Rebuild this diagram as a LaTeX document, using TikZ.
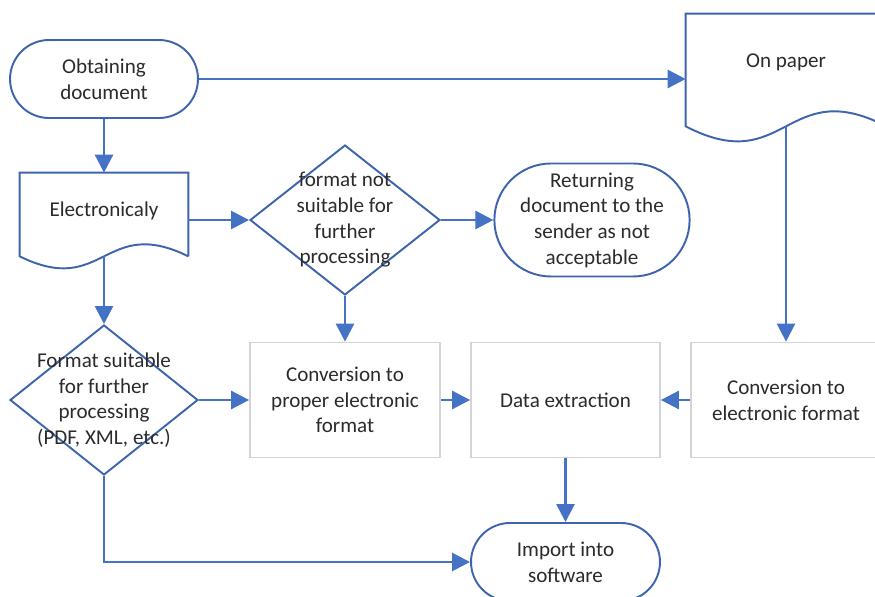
\documentclass[tikz,border=0pt]{standalone}
\usepackage{fontspec}
\setmainfont{Carlito}
\usetikzlibrary{arrows.meta,calc,shapes.geometric,shapes.misc}
\definecolor{flowblue}{HTML}{4472C4}
\definecolor{edgeblue}{HTML}{3E64AE}
\definecolor{boxgray}{HTML}{D4D4D4}
\definecolor{txtgray}{HTML}{2B2B2B}

\begin{document}
\begin{tikzpicture}[x=0.02cm, y=-0.02cm, >={Triangle[length=0.36cm,width=0.36cm]},
  every node/.style={font=\fontsize{12}{14.6}\selectfont, text=txtgray, align=center},
  terminal/.style={rounded rectangle, draw=edgeblue, line width=1.1pt, fill=white,
    minimum width=3.76cm, minimum height=1.56cm, inner sep=0pt},
  decision/.style={diamond, draw=edgeblue, line width=1.1pt, minimum width=3.8cm,
    minimum height=3cm, inner sep=0pt},
  process/.style={rectangle, draw=boxgray, line width=1pt, minimum width=3.8cm,
    minimum height=2.3cm},
  doctext/.style={rectangle, inner sep=0pt},
  docline/.style={draw=edgeblue, line width=1.1pt},
  flow/.style={->, draw=flowblue, line width=1.5pt}]
\useasboundingbox (0,0) rectangle (875,597);
\clip (0,0) rectangle (875,597);

% Terminals
\node [terminal] (obtain) at (104,79) {Obtaining\\document};
\node [terminal, minimum width=3.82cm, minimum height=2.26cm] (returning) at (592,220)
  {Returning\\document to the\\sender as not\\acceptable};
\node [terminal, minimum width=3.78cm] (importsw) at (565.5,562) {Import into\\software};

% Documents (text part, wave drawn below)
\node [doctext, minimum width=3.36cm, minimum height=1.52cm] (elec) at (104,211) {Electronicaly};
\node [doctext, minimum width=4cm, minimum height=1.92cm] (paper) at (786,62) {On paper};
\draw [docline] ($(elec.south east)+(0,7)$) -- (elec.north east) -- (elec.north west)
  -- ($(elec.south west)+(0,7)$) .. controls ($(elec.south)+(0,48.6)$) and ($(elec.south)+(0,-34.6)$)
  .. ($(elec.south east)+(0,7)$);
\draw [docline] ($(paper.south east)+(0,16)$) -- (paper.north east) -- (paper.north west)
  -- ($(paper.south west)+(0,16)$) .. controls ($(paper.south)+(0,68)$) and ($(paper.south)+(0,-36)$)
  .. ($(paper.south east)+(0,16)$);
\coordinate (elecbot) at ($(elec.south)+(0,7)$);
\coordinate (paperbot) at ($(paper.south)+(0,16)$);

% Decisions
\node [decision, label={center:{format not\\suitable for\\further\\processing}}] (notsuit) at (345,220) {};
\node [decision, minimum width=3.76cm,
  label={center:{Format suitable\\for further\\processing\\(PDF, XML, etc.)}}] (suit) at (104,400) {};

% Processes
\node [process] (convproper) at (345,400) {Conversion to\\proper electronic\\format};
\node [process, minimum width=3.78cm] (extract) at (565.5,400) {Data extraction};
\node [process] (convelec) at (786,400) {Conversion to\\electronic format};

% Connectors
\draw [flow] (obtain.east) -- (obtain.east -| paper.west);
\draw [flow] (obtain.south) -- (elec.north);
\draw [flow] (notsuit.west -| elec.east) -- (notsuit.west);
\draw [flow] (notsuit.east) -- (returning.west);
\draw [flow] (elecbot) -- (suit.north);
\draw [flow] (notsuit.south) -- (convproper.north);
\draw [flow] (suit.east) -- (convproper.west);
\draw [flow] (convproper.east) -- (extract.west);
\draw [flow] (paperbot) -- (convelec.north);
\draw [flow] (convelec.west) -- (extract.east);
\draw [flow] (extract.south) -- (importsw.north);
\draw [flow] (suit.south) |- (importsw.west);
\end{tikzpicture}
\end{document}
